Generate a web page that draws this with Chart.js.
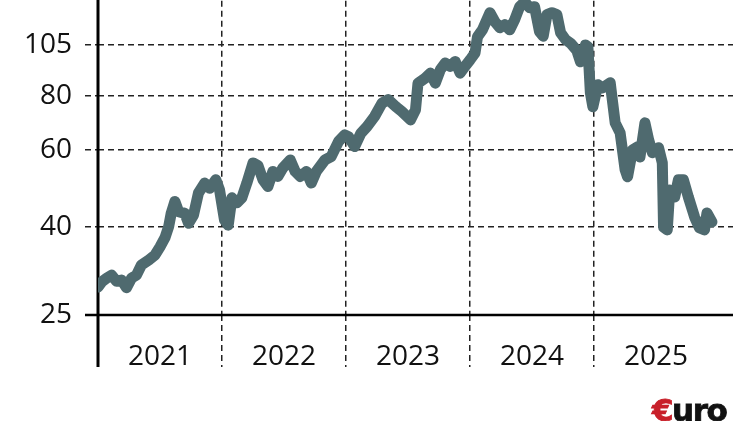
<!DOCTYPE html>
<html>
<head>
<meta charset="utf-8">
<script src="https://cdn.jsdelivr.net/npm/chart.js@4/dist/chart.umd.min.js"></script>
<style>
  html, body { margin: 0; padding: 0; background: #fff; overflow: hidden; }
  body { width: 750px; height: 421px; position: relative; }
  #wrap { position: absolute; left: 0; top: -39px; width: 750px; height: 460px; }
  #logo { position: absolute; left: 652px; top: 395px; font: 900 31px "DejaVu Sans", sans-serif; letter-spacing: -1.5px; line-height: 1; color: #111; -webkit-text-stroke: 0.8px #111; }
  #logo span { color: #c8202a; -webkit-text-stroke: 0.8px #c8202a; }
</style>
</head>
<body>
<div id="wrap"><canvas id="stockChart"></canvas></div>
<div id="logo"><span>€</span>uro</div>
<script>
// decimal years and closing price
var dates = [2021.00, 2021.03, 2021.07, 2021.11, 2021.15, 2021.19, 2021.23, 2021.27, 2021.31, 2021.35,
  2021.41, 2021.46, 2021.50, 2021.54, 2021.57, 2021.59, 2021.62, 2021.65, 2021.70, 2021.73,
  2021.77, 2021.81, 2021.86, 2021.90, 2021.95, 2021.98, 2022.02, 2022.05, 2022.08, 2022.12,
  2022.16, 2022.20, 2022.25, 2022.29, 2022.33, 2022.37, 2022.41, 2022.45, 2022.49, 2022.55,
  2022.59, 2022.63, 2022.68, 2022.72, 2022.76, 2022.83, 2022.88, 2022.94, 2022.99, 2023.02,
  2023.07, 2023.12, 2023.17, 2023.23, 2023.29, 2023.34, 2023.40, 2023.45, 2023.52, 2023.56,
  2023.58, 2023.64, 2023.68, 2023.72, 2023.76, 2023.80, 2023.84, 2023.88, 2023.92, 2023.96,
  2024.00, 2024.04, 2024.06, 2024.10, 2024.16, 2024.20, 2024.24, 2024.28, 2024.32, 2024.36,
  2024.40, 2024.44, 2024.48, 2024.52, 2024.56, 2024.59, 2024.62, 2024.66, 2024.70, 2024.73,
  2024.77, 2024.81, 2024.86, 2024.89, 2024.93, 2024.95, 2024.97, 2024.99, 2025.03, 2025.07,
  2025.13, 2025.15, 2025.17, 2025.21, 2025.25, 2025.27, 2025.31, 2025.35, 2025.37, 2025.41,
  2025.44, 2025.47, 2025.52, 2025.55, 2025.56, 2025.59, 2025.61, 2025.65, 2025.68, 2025.72,
  2025.76, 2025.81, 2025.85, 2025.89, 2025.91, 2025.95];
var price = [29.0, 29.8, 30.4, 30.9, 29.9, 30.1, 28.9, 30.4, 30.9, 32.6,
  33.5, 34.4, 35.9, 37.7, 40.0, 42.9, 45.7, 43.3, 42.9, 40.7,
  42.5, 47.8, 50.4, 49.0, 51.3, 48.6, 41.4, 40.3, 46.6, 45.4,
  46.6, 50.4, 56.1, 55.3, 51.3, 49.5, 53.6, 52.2, 54.6, 57.0,
  53.6, 52.2, 53.6, 50.4, 53.6, 57.0, 58.0, 62.9, 65.1, 64.5,
  61.2, 65.7, 68.1, 71.8, 77.1, 78.5, 75.7, 73.7, 70.5, 74.4,
  85.7, 88.1, 90.4, 85.7, 92.0, 95.4, 93.7, 96.2, 90.4, 93.7,
  97.0, 100.6, 109.7, 113.8, 124.6, 118.8, 115.1, 116.9, 113.8, 120.1,
  128.7, 132.0, 128.0, 128.7, 112.6, 110.0, 123.3, 124.6, 123.3, 112.0,
  108.0, 106.0, 102.0, 96.0, 105.0, 104.0, 81.4, 75.6, 85.0, 83.6,
  85.9, 77.2, 69.4, 65.8, 54.1, 52.1, 60.1, 61.1, 57.9, 69.4,
  63.4, 59.2, 60.8, 56.1, 39.9, 39.3, 48.6, 46.8, 51.3, 51.3,
  46.8, 42.1, 39.7, 39.3, 43.0, 41.0];
var yearLabels = ["2021", "2022", "2023", "2024", "2025"];
var yTicks = [25, 40, 60, 80, 105, 140];

var points = dates.map(function (d, i) { return { x: d, y: price[i] }; });

var axisLines = {
  id: "axisLines",
  beforeDatasetsDraw: function (chart) {
    var a = chart.chartArea, c = chart.ctx;
    c.save();
    c.strokeStyle = "#000";
    c.lineWidth = 2.5;
    c.beginPath();
    c.moveTo(a.left - 13, a.bottom);
    c.lineTo(a.right, a.bottom);
    c.stroke();
    c.lineWidth = 3;
    c.beginPath();
    c.moveTo(a.left, 0);
    c.lineTo(a.left, a.bottom + 52);
    c.stroke();
    c.restore();
  }
};

new Chart("stockChart", {
  type: "line",
  data: {
    datasets: [{
      data: points,
      borderColor: "#4f6a6f",
      borderWidth: 11,
      pointRadius: 0,
      tension: 0,
      borderJoinStyle: "round",
      borderCapStyle: "round"
    }]
  },
  plugins: [axisLines],
  options: {
    responsive: true,
    maintainAspectRatio: false,
    animation: false,
    layout: { padding: { top: 12, right: 17, left: 0, bottom: 0 } },
    plugins: { legend: { display: false }, tooltip: { enabled: false } },
    scales: {
      x: {
        type: "linear",
        min: 2021,
        max: 2026.12,
        afterBuildTicks: function (s) {
          s.ticks = yearLabels.map(function (y) { return { value: Number(y) + 0.5 }; });
        },
        afterFit: function (s) { s.height = 106; },
        border: { display: false, dash: [6, 4] },
        grid: {
          offset: true,
          color: function (c) { return c.tick ? "#222" : "rgba(0,0,0,0)"; },
          lineWidth: 1.5,
          tickBorderDash: [6, 4],
          tickLength: 52
        },
        ticks: {
          autoSkip: false,
          maxRotation: 0,
          padding: -27,
          color: "#111",
          font: { family: "Open Sans", size: 28 },
          callback: function (v, i) { return yearLabels[i]; }
        }
      },
      y: {
        type: "logarithmic",
        min: 25,
        max: 140,
        afterBuildTicks: function (s) {
          s.ticks = yTicks.map(function (v) { return { value: v }; });
        },
        afterFit: function (s) { s.width = 98; },
        border: { display: false, dash: [6, 4] },
        grid: {
          color: "#222",
          lineWidth: 1.5,
          tickBorderDash: [6, 4],
          tickLength: 13
        },
        ticks: {
          padding: 13,
          color: "#111",
          font: { family: "Open Sans", size: 28 },
          callback: function (v) { return String(v); }
        }
      }
    }
  }
});
</script>
</body>
</html>
